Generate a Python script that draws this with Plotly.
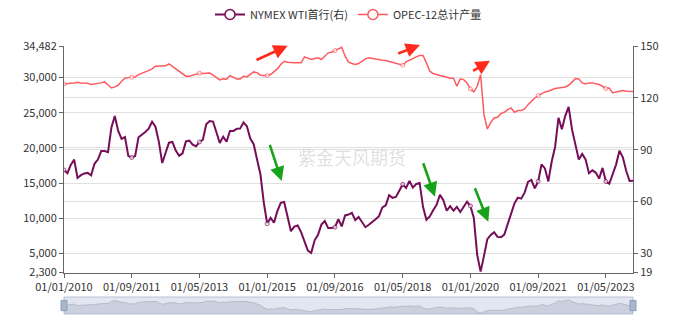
import pandas as pd
import plotly.graph_objects as go

# ---------------- data ----------------
dates = pd.date_range("2010-01-01", periods=169, freq="MS").strftime("%d/%m/%Y").tolist()

wti = [
    78.3, 76.4, 81.2, 84.3, 73.7, 75.3, 76.3, 76.6, 75.2, 81.9, 84.3, 89.2,
    89.2, 88.6, 102.9, 109.5, 100.9, 96.3, 97.3, 86.3, 85.5, 86.3, 97.2, 98.6,
    100.3, 102.2, 106.2, 103.3, 94.7, 82.3, 87.9, 94.1, 94.5, 89.5, 86.5, 87.9,
    94.8, 95.3, 92.9, 92.0, 94.5, 95.8, 104.7, 106.6, 106.3, 100.5, 93.9, 97.6,
    94.6, 100.8, 100.8, 102.1, 102.2, 105.8, 103.6, 96.5, 93.2, 84.4, 75.8, 59.3,
    47.2, 50.6, 47.8, 54.5, 59.3, 59.8, 50.9, 42.9, 45.5, 46.2, 42.4, 37.2,
    31.7, 30.3, 37.6, 40.8, 46.7, 48.8, 44.7, 44.7, 45.2, 49.8, 45.7, 52.0,
    52.5, 53.5, 49.3, 51.1, 48.5, 45.2, 46.6, 48.0, 49.8, 51.6, 56.6, 57.9,
    63.7, 62.2, 62.7, 66.3, 70.0, 67.9, 72.0, 68.1, 70.2, 70.8, 57.0, 49.5,
    51.4, 55.0, 58.2, 63.9, 60.8, 54.7, 57.4, 54.8, 57.0, 54.0, 57.0, 59.9,
    57.5, 50.5, 29.2, 19.5, 28.6, 38.3, 40.7, 42.3, 39.6, 39.4, 40.9, 47.0,
    52.0, 59.0, 62.3, 61.7, 65.2, 71.4, 72.5, 67.7, 71.7, 81.5, 79.2, 71.7,
    83.2, 91.6, 108.5, 101.8, 109.6, 114.8, 101.6, 93.7, 84.3, 87.6, 84.4, 76.4,
    78.1, 76.8, 73.3, 79.5, 71.6, 70.3, 76.1, 81.4, 89.4, 85.6, 77.7, 71.9,
    72.0,
]

opec = [
    29090, 29190, 29190, 29240, 29330, 29240, 29240, 29190, 29000, 29090, 29090, 29240,
    29380, 29000, 28520, 28670, 28900, 29470, 29900, 29990, 30040, 30090, 30420, 30660,
    30800, 30990, 31230, 31610, 31610, 31610, 31660, 31940, 31610, 31230, 30900, 30520,
    30190, 30190, 30330, 30520, 30610, 30570, 30660, 30660, 30330, 29950, 29670, 29810,
    29760, 30280, 30040, 29810, 29810, 30190, 30090, 30500, 30800, 30700, 30330, 30280,
    30280, 30420, 30800, 31230, 31850, 32320, 32180, 32090, 32090, 32090, 32090, 32940,
    32800, 32560, 32700, 32800, 32560, 33030, 33510, 33600, 33840, 33980, 34300, 33030,
    32180, 31990, 31850, 31990, 32320, 32650, 32800, 32700, 32650, 32560, 32460, 32420,
    32280, 32180, 32090, 31940, 31750, 32230, 32460, 32800, 32940, 33130, 33130, 32090,
    30900, 30570, 30380, 30280, 30190, 30040, 29900, 29900, 28760, 29810, 29710, 29240,
    28380, 27960, 28760, 30420, 24730, 22690, 23630, 24250, 24350, 24870, 25060, 25440,
    25680, 25060, 25300, 25300, 25530, 26150, 26630, 27100, 27430, 27720, 27960, 28050,
    28290, 28430, 28520, 28620, 28670, 28900, 29380, 29850, 29810, 29240, 29090, 29240,
    29240, 29140, 29000, 28760, 28430, 28520, 27810, 27960, 28050, 28150, 28050, 28050,
    28000,
]

left_ticks = [2300, 5000, 10000, 15000, 20000, 25000, 30000, 34482]
right_ticks = [19, 30, 60, 90, 120, 150]
label_step = 20
x_ticks = dates[::label_step]

wti_name = "NYMEX WTI首行(右)"
opec_name = "OPEC-12总计产量"
watermark = "紫金天风期货"

# ---------------- style ----------------
C_WTI = "#760d58"
C_OPEC = "#ff5a5f"
FONT = "Noto Sans CJK SC, Noto Sans, sans-serif"

W, H = 700, 318
ML, MR, MT, MB = 64, 67, 46, 4
PW, PH = W - ML - MR, H - MT - MB
main_bottom = (314 - 272.5) / PH
slider_top = 17 / PH

msize = [4 if i % label_step == 0 else 0 for i in range(len(dates))]
mline = [1 if i % label_step == 0 else 0 for i in range(len(dates))]

fig = go.Figure()

fig.add_trace(go.Scatter(
    x=dates, y=opec, mode="lines+markers", yaxis="y", xaxis="x",
    line=dict(color=C_OPEC, width=1.5),
    marker=dict(size=msize, color="white", line=dict(color=C_OPEC, width=mline)),
    showlegend=False, hoverinfo="skip",
))
fig.add_trace(go.Scatter(
    x=dates, y=wti, mode="lines+markers", yaxis="y2", xaxis="x",
    line=dict(color=C_WTI, width=2),
    marker=dict(size=msize, color="white", line=dict(color=C_WTI, width=mline)),
    showlegend=False, hoverinfo="skip",
))

# legend entries
fig.add_trace(go.Scatter(
    x=[None], y=[None], mode="lines+markers", name=wti_name,
    line=dict(color=C_WTI, width=2),
    marker=dict(size=10, color="white", line=dict(color=C_WTI, width=1.5)),
))
fig.add_trace(go.Scatter(
    x=[None], y=[None], mode="lines+markers", name=opec_name,
    line=dict(color=C_OPEC, width=1.5),
    marker=dict(size=10, color="white", line=dict(color=C_OPEC, width=1.5)),
))

# data-zoom shadow
fig.add_trace(go.Scatter(
    x=dates, y=wti, mode="lines", xaxis="x2", yaxis="y3",
    line=dict(color="rgba(140,150,168,0.55)", width=0.8),
    fill="tozeroy", fillcolor="rgba(150,160,178,0.30)",
    showlegend=False, hoverinfo="skip",
))

grid = "#e0e0e0"
tickfont = dict(family=FONT, size=11, color="#333")

fig.update_layout(
    width=W, height=H,
    margin=dict(l=ML, r=MR, t=MT, b=MB, autoexpand=False),
    paper_bgcolor="white", plot_bgcolor="white",
    font=dict(family=FONT, size=11, color="#333"),
    xaxis=dict(
        type="category", range=[0, len(dates) - 1], anchor="y", automargin=False,
        tickmode="array", tickvals=x_ticks, ticktext=x_ticks,
        ticks="outside", ticklen=4, tickcolor="#666",
        showline=True, linecolor="#666", linewidth=1,
        showgrid=False, zeroline=False, tickfont=tickfont,
    ),
    yaxis=dict(
        domain=[main_bottom, 1], range=[left_ticks[0], left_ticks[-1]], automargin=False,
        tickmode="array", tickvals=left_ticks, tickformat=",d",
        ticks="outside", ticklen=4, tickcolor="#666",
        showline=True, linecolor="#666", linewidth=1,
        showgrid=True, gridcolor=grid, gridwidth=1, zeroline=False,
        tickfont=tickfont,
    ),
    yaxis2=dict(
        overlaying="y", side="right", anchor="x", automargin=False,
        range=[right_ticks[0], right_ticks[-1]],
        tickmode="array", tickvals=right_ticks,
        ticks="outside", ticklen=4, tickcolor="#666",
        showline=True, linecolor="#666", linewidth=1,
        showgrid=True, gridcolor=grid, gridwidth=1, zeroline=False,
        tickfont=tickfont,
    ),
    xaxis2=dict(
        type="category", range=[0, len(dates) - 1], anchor="y3", automargin=False,
        visible=False, showgrid=False, zeroline=False,
    ),
    yaxis3=dict(
        domain=[0, slider_top], range=[14, 134], anchor="x2", automargin=False,
        visible=False, showgrid=False, zeroline=False,
    ),
    legend=dict(
        orientation="h", x=0.5, xanchor="center",
        yref="container", y=1.0, yanchor="top",
        font=dict(family=FONT, size=11, color="#333"),
        bgcolor="rgba(0,0,0,0)", itemwidth=30,
    ),
)

# slider background and handles
hw = 3 / PW
fig.add_shape(type="rect", xref="paper", yref="paper", x0=0, x1=1, y0=0, y1=slider_top,
              fillcolor="rgba(200,210,228,0.55)", line=dict(color="rgba(170,182,204,0.8)", width=1),
              layer="below")
for xp in (0, 1):
    fig.add_shape(type="rect", xref="paper", yref="paper",
                  x0=xp - hw, x1=xp + hw, y0=slider_top * 0.2, y1=slider_top * 0.8,
                  fillcolor="rgb(167,183,204)", line=dict(color="rgb(140,158,184)", width=1))


def px2paper(px, py):
    return (px - ML) / PW, (H - MB - py) / PH


# watermark
wx, wy = px2paper(352, 157)
fig.add_annotation(x=wx, y=wy, xref="paper", yref="paper", text=watermark, showarrow=False,
                   font=dict(family=FONT, size=18, color="rgba(0,0,0,0.14)"))

# arrows: (head_x, head_y, tail_x, tail_y, color)
arrows = [
    (287.7, 45.7, 255.0, 60.7, "#ff2a1a"),
    (420.0, 45.0, 396.7, 54.0, "#ff2a1a"),
    (490.0, 60.7, 471.7, 71.7, "#ff2a1a"),
    (281.7, 181.0, 269.3, 143.3, "#17a317"),
    (435.0, 196.7, 422.7, 161.7, "#17a317"),
    (488.3, 221.7, 474.3, 186.7, "#17a317"),
]
for hx, hy, tx, ty, col in arrows:
    ax_, ay_ = px2paper(hx, hy)
    fig.add_annotation(x=ax_, y=ay_, xref="paper", yref="paper", text="", showarrow=True,
                       ax=tx - hx, ay=ty - hy, arrowhead=2, arrowsize=1.1, arrowwidth=2.6,
                       arrowcolor=col, standoff=0)

fig.write_html("out.html")
